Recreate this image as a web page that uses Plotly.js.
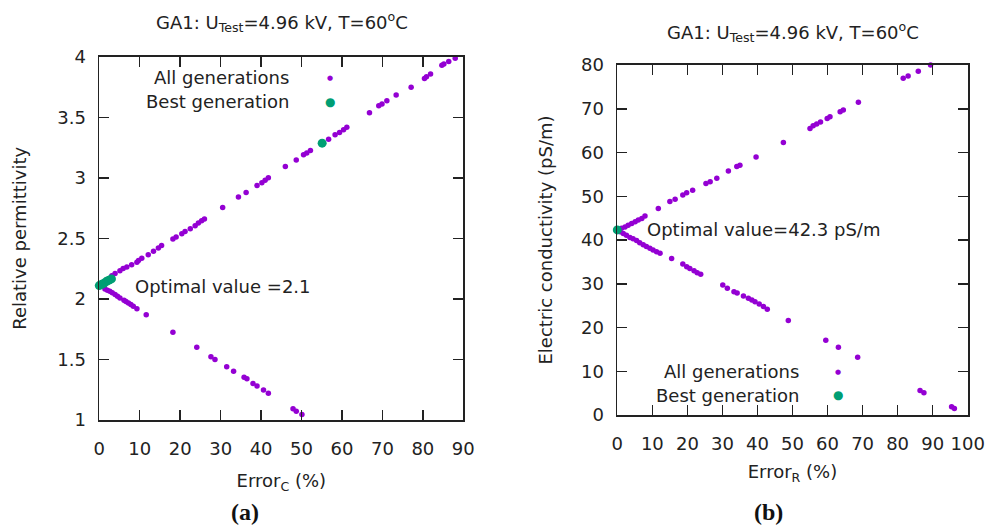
<!DOCTYPE html>
<html>
<head>
<meta charset="utf-8">
<script src="https://cdn.plot.ly/plotly-3.0.1.min.js"></script>
<style>html,body{margin:0;padding:0;background:#fff;}#chart{width:987px;height:528px;}</style>
</head>
<body>
<div id="chart"></div>
<script>
// ---- Panel (a): relative permittivity vs Error_C ----
const allC_x = [88.0,86.4,85.2,84.7,81.9,80.9,80.4,77.1,73.4,71.1,69.9,69.1,66.8,61.2,60.4,59.4,58.3,56.7,52.2,51.3,50.5,48.7,46.0,41.8,41.0,40.2,39.0,36.3,34.4,30.5,26.0,25.3,24.5,23.7,22.5,21.2,20.4,19.0,18.2,15.4,14.6,13.4,12.1,10.5,9.7,9.3,8.0,6.8,5.9,5.1,3.9,3.1,
  1.4,2.0,2.6,3.2,3.9,4.5,5.1,6.1,6.6,7.2,7.8,8.4,9.3,11.6,18.2,24.1,27.6,28.6,31.5,33.2,35.8,36.5,38.0,39.0,40.6,41.8,47.9,48.7,50.1];
const allC_y = [3.987,3.96,3.94,3.93,3.857,3.835,3.82,3.748,3.684,3.637,3.61,3.594,3.538,3.418,3.396,3.374,3.355,3.319,3.225,3.204,3.19,3.148,3.093,3.0,2.98,2.96,2.937,2.879,2.841,2.755,2.659,2.645,2.626,2.604,2.579,2.557,2.538,2.511,2.494,2.44,2.42,2.393,2.365,2.335,2.318,2.302,2.283,2.264,2.25,2.233,2.209,2.192,
  2.082,2.072,2.063,2.05,2.036,2.022,2.008,1.989,1.978,1.967,1.953,1.94,1.918,1.87,1.725,1.601,1.522,1.5,1.44,1.403,1.354,1.34,1.302,1.28,1.247,1.22,1.093,1.073,1.046];
const bestC_x = [0.0,0.6,1.2,1.8,2.4,3.0,55.1];
const bestC_y = [2.11,2.12,2.13,2.145,2.155,2.165,3.286];

// ---- Panel (b): electric conductivity vs Error_R ----
const allR_x = [89.4,85.9,83.0,81.6,68.8,64.5,63.6,60.7,59.9,58.0,56.9,55.9,55.0,47.4,39.6,35.0,34.1,31.7,28.4,26.5,25.3,21.5,19.8,18.7,16.5,15.0,11.7,7.9,7.0,6.0,5.1,4.1,3.1,2.2,1.2,
  0.8,1.7,2.6,3.6,4.5,5.5,6.4,7.4,8.3,9.3,10.2,11.2,12.2,15.5,18.7,19.8,20.7,21.9,22.8,23.8,30.1,31.4,33.3,34.2,36.0,37.4,38.4,39.3,40.5,41.7,42.8,48.8,59.5,63.1,68.6,86.4,87.5,95.4,96.2];
const allR_y = [80.0,78.6,77.5,77.0,71.5,69.7,69.3,68.2,67.8,67.0,66.5,66.1,65.5,62.3,59.0,57.1,56.8,55.8,54.1,53.3,52.9,51.4,50.8,50.3,49.3,48.8,47.2,45.5,44.9,44.6,44.2,43.8,43.4,43.0,42.7,
  41.9,41.5,41.1,40.6,40.3,39.9,39.4,38.9,38.5,38.1,37.7,37.3,37.0,35.8,34.5,33.9,33.5,33.0,32.5,32.2,29.7,29.0,28.2,27.9,27.2,26.7,26.3,25.9,25.4,24.8,24.2,21.6,17.1,15.5,13.2,5.6,5.1,1.9,1.5];
const bestR_x = [0.0];
const bestR_y = [42.3];

const xTicksC = [0,10,20,30,40,50,60,70,80,90];
const yTicksC = [1,1.5,2,2.5,3,3.5,4];
const xTicksR = [0,10,20,30,40,50,60,70,80,90,100];
const yTicksR = [0,10,20,30,40,50,60,70,80];

const W = 987, H = 528;
const px = X => X / W;
const py = Y => 1 - Y / H;

const PURPLE = '#9400d3';
const GREEN = '#009e73';
const FONT = 'DejaVu Sans, Verdana, sans-serif';
const FS = 18;
const TXT = {family: FONT, size: FS, color: '#222'};

const traces = [
  {x: allC_x, y: allC_y, xaxis: 'x', yaxis: 'y', mode: 'markers', type: 'scatter',
   marker: {color: PURPLE, size: 5.5}, cliponaxis: false, name: 'All generations'},
  {x: bestC_x, y: bestC_y, xaxis: 'x', yaxis: 'y', mode: 'markers', type: 'scatter',
   marker: {color: GREEN, size: 9}, cliponaxis: false, name: 'Best generation'},
  {x: allR_x, y: allR_y, xaxis: 'x2', yaxis: 'y2', mode: 'markers', type: 'scatter',
   marker: {color: PURPLE, size: 5.5}, cliponaxis: false, name: 'All generations'},
  {x: bestR_x, y: bestR_y, xaxis: 'x2', yaxis: 'y2', mode: 'markers', type: 'scatter',
   marker: {color: GREEN, size: 9}, cliponaxis: false, name: 'Best generation'}
];

function axis(domain, range, ticks, anchor, extra) {
  return Object.assign({
    domain: domain, range: range, anchor: anchor,
    tickmode: 'array', tickvals: ticks, ticktext: ticks.map(String),
    ticks: 'inside', ticklen: 10, tickwidth: 1.5, tickcolor: '#222',
    mirror: 'ticks', showline: true, linecolor: '#222', linewidth: 1.8,
    showgrid: false, zeroline: false,
    tickfont: TXT,
    fixedrange: true
  }, extra || {});
}

function ann(text, X, Y, xanchor, font) {
  return {text: text, xref: 'paper', yref: 'paper', x: px(X), y: py(Y),
    xanchor: xanchor, yanchor: 'middle', showarrow: false, borderpad: 0, font: font || TXT};
}

const layout = {
  width: W, height: H,
  margin: {l: 0, r: 0, t: 0, b: 0},
  paper_bgcolor: '#fff', plot_bgcolor: '#fff',
  showlegend: false,
  font: TXT,
  xaxis: axis([px(99.3), px(463.3)], [0, 90], xTicksC, 'y',
    {ticklabelstandoff: 12, title: {text: 'Error<sub>C</sub> (%)', font: TXT, standoff: 16}}),
  yaxis: axis([py(420), py(56.7)], [1, 4], yTicksC, 'x',
    {ticklabelstandoff: 8, title: {text: 'Relative permittivity', font: TXT, standoff: 26}}),
  xaxis2: axis([px(617.3), px(967.7)], [0, 100], xTicksR, 'y2',
    {ticklabelstandoff: 12, title: {text: 'Error<sub>R</sub> (%)', font: TXT, standoff: 12}}),
  yaxis2: axis([py(415), py(65)], [0, 80], yTicksR, 'x2',
    {ticklabelstandoff: 8, title: {text: 'Electric conductivity (pS/m)', font: TXT, standoff: 24}}),
  annotations: [
    ann('GA1: U<sub>Test</sub>=4.96 kV, T=60<sup>o</sup>C', 281.7, 21.7, 'center'),
    ann('GA1: U<sub>Test</sub>=4.96 kV, T=60<sup>o</sup>C', 792.5, 31.7, 'center'),
    // legend (a)
    ann('All generations', 290, 78, 'right'),
    ann('Best generation', 290, 101.7, 'right'),
    ann('●', 330, 78, 'center', {family: FONT, size: 7, color: PURPLE}),
    ann('●', 330, 101.7, 'center', {family: FONT, size: 12, color: GREEN}),
    // legend (b)
    ann('All generations', 800, 371.7, 'right'),
    ann('Best generation', 800, 395, 'right'),
    ann('●', 838.3, 371.7, 'center', {family: FONT, size: 7, color: PURPLE}),
    ann('●', 838.3, 395, 'center', {family: FONT, size: 12, color: GREEN}),
    // optimal value labels
    ann('Optimal value =2.1', 134, 286, 'left'),
    ann('Optimal value=42.3 pS/m', 645.5, 230, 'left'),
    // panel labels
    ann('<b>(a)</b>', 245, 512, 'center', {family: 'Liberation Serif, serif', size: 24, color: '#111'}),
    ann('<b>(b)</b>', 768, 512, 'center', {family: 'Liberation Serif, serif', size: 24, color: '#111'})
  ]
};

Plotly.newPlot('chart', traces, layout, {staticPlot: true, displayModeBar: false});
</script>
</body>
</html>
